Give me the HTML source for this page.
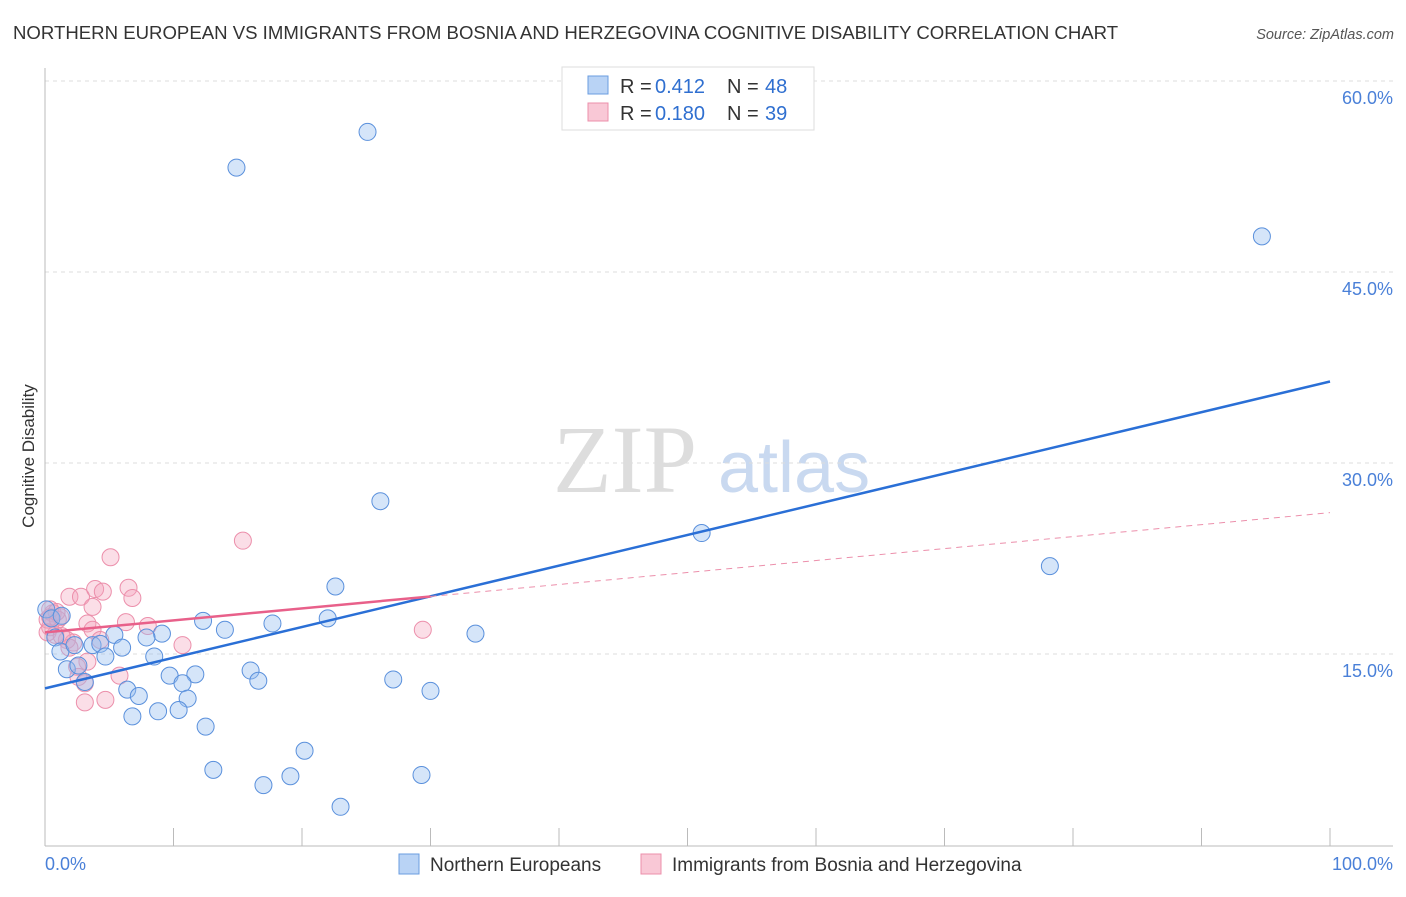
<!DOCTYPE html>
<html><head><meta charset="utf-8"><style>
body{margin:0;background:#fff;font-family:"Liberation Sans",sans-serif;}
svg text{font-family:"Liberation Sans",sans-serif;}
</style></head><body>
<svg id="c" width="1406" height="892">
<text x="13" y="39" font-size="18.6" fill="#333">NORTHERN EUROPEAN VS IMMIGRANTS FROM BOSNIA AND HERZEGOVINA COGNITIVE DISABILITY CORRELATION CHART</text>
<text x="1394" y="39" font-size="14.5" fill="#555" text-anchor="end" font-style="italic">Source: ZipAtlas.com</text>
<text x="34" y="456" font-size="17" fill="#333" text-anchor="middle" transform="rotate(-90 34 456)">Cognitive Disability</text>
<text x="553" y="492" font-size="96" fill="#ddd" style="font-family:'Liberation Serif',serif">ZIP</text>
<text x="718" y="492" font-size="72" fill="#c9d9f0">atlas</text>
<g id="grid"></g><g id="marks"></g>
<g>
<rect x="562" y="67" width="252" height="63" fill="#fff" stroke="#ddd"/>
<rect x="588" y="76" width="20" height="18" fill="#b9d3f5" stroke="#6a9de0"/>
<rect x="588" y="103" width="20" height="18" fill="#f9c8d6" stroke="#ec8fab"/>
<text x="620" y="93" font-size="20" fill="#333">R =</text>
<text x="655" y="93" font-size="20" fill="#2f6fd0">0.412</text>
<text x="727" y="93" font-size="20" fill="#333">N =</text>
<text x="765" y="93" font-size="20" fill="#2f6fd0">48</text>
<text x="620" y="120" font-size="20" fill="#333">R =</text>
<text x="655" y="120" font-size="20" fill="#2f6fd0">0.180</text>
<text x="727" y="120" font-size="20" fill="#333">N =</text>
<text x="765" y="120" font-size="20" fill="#2f6fd0">39</text>
</g>
<g>
<rect x="399" y="854" width="20" height="20" fill="#b9d3f5" stroke="#6a9de0"/>
<text x="430" y="871" font-size="19" fill="#333">Northern Europeans</text>
<rect x="641" y="854" width="20" height="20" fill="#f9c8d6" stroke="#ec8fab"/>
<text x="672" y="871" font-size="19" fill="#333">Immigrants from Bosnia and Herzegovina</text>
</g>
</svg>
<script>
const yTicks=[15,30,45,60];
const yTickLabels=["15.0%","30.0%","45.0%","60.0%"];
const blueX=[25.1,14.9,94.7,26.1,51.1,78.2,22.6,0.1,0.5,1.3,12.3,14.0,17.7,22.0,33.5,9.1,5.4,7.9,0.8,3.7,6.0,4.3,1.2,2.3,4.7,8.5,1.7,2.6,11.7,9.7,16.0,3.1,6.4,10.7,16.6,27.1,7.3,11.1,30.0,8.8,10.4,6.8,12.5,20.2,13.1,19.1,29.3,17.0,23.0];
const blueY=[56.0,53.2,47.8,27.0,24.5,21.9,20.3,18.5,17.8,18.0,17.6,16.9,17.4,17.8,16.6,16.6,16.5,16.3,16.3,15.7,15.5,15.8,15.2,15.7,14.8,14.8,13.8,14.1,13.4,13.3,13.7,12.8,12.2,12.7,12.9,13.0,11.7,11.5,12.1,10.5,10.6,10.1,9.3,7.4,5.9,5.4,5.5,4.7,3.0];
const pinkX=[15.4,5.1,1.9,2.8,3.9,4.5,6.5,6.8,3.7,0.6,1.2,6.3,8.0,3.3,3.7,0.4,0.8,2.2,1.7,10.7,3.3,5.8,2.5,3.1,3.1,4.7,29.4,0.2,1.0,0.4,1.9,2.6,0.4,0.9,0.2,1.3,4.3];
const pinkY=[23.9,22.6,19.5,19.5,20.1,19.9,20.2,19.4,18.7,18.2,17.9,17.5,17.2,17.4,16.9,17.1,16.5,15.9,16.1,15.7,14.4,13.3,14.0,12.7,11.2,11.4,16.9,17.7,17.7,17.9,15.5,13.2,18.5,18.3,16.7,16.4,16.1];
const blueLine=[12.3,36.4];
const pinkLine=[16.7,26.1];
const NS='http://www.w3.org/2000/svg';
const sx=v=>45+v*12.85, sy=v=>845-v*191/15;
function mk(t,a,p){const e=document.createElementNS(NS,t);for(const k in a)e.setAttribute(k,a[k]);p.appendChild(e);return e;}
const grid=document.getElementById('grid'),marks=document.getElementById('marks');
yTicks.forEach((t,i)=>{
 const l=mk('line',{x1:45,x2:1393,y1:sy(t),y2:sy(t),stroke:'#ddd','stroke-dasharray':'4 4'},grid);
 
 
 const tx=mk('text',{x:1393,y:sy(t)+23,'font-size':18,fill:'#4a80d8','text-anchor':'end'},grid);
 tx.textContent=yTickLabels[i];
 
 
});
mk('line',{x1:45,x2:45,y1:68,y2:846,stroke:'#bbb'},grid);
mk('line',{x1:45,x2:1393,y1:846,y2:846,stroke:'#bbb'},grid);
for(let i=0;i<=10;i++){mk('line',{x1:sx(i*10),x2:sx(i*10),y1:828,y2:846,stroke:'#bbb'},grid);}
const x0=mk('text',{x:45,y:870,'font-size':18,fill:'#4a80d8'},grid);x0.textContent='0.0%';


const x1=mk('text',{x:1393,y:870,'font-size':18,fill:'#4a80d8','text-anchor':'end'},grid);x1.textContent='100.0%';


pinkX.forEach((x,i)=>{const c=mk('circle',{cx:sx(x),cy:sy(pinkY[i]),r:8.5,fill:'rgba(244,160,185,0.35)',stroke:'#ec8fab','stroke-width':1},marks);
 
 });
blueX.forEach((x,i)=>{const c=mk('circle',{cx:sx(x),cy:sy(blueY[i]),r:8.5,fill:'rgba(150,190,240,0.4)',stroke:'#5a90dc','stroke-width':1},marks);
 
 });
const bl=mk('line',{x1:sx(0),y1:sy(blueLine[0]),x2:sx(100),y2:sy(blueLine[1]),stroke:'#2a6fd6','stroke-width':2.5},marks);


const pv=x=>pinkLine[0]+(pinkLine[1]-pinkLine[0])*x/100;
const pl=mk('line',{x1:sx(0),y1:sy(pv(0)),x2:sx(30),y2:sy(pv(30)),stroke:'#e8608a','stroke-width':2.5},marks);


const pd=mk('line',{x1:sx(30),y1:sy(pv(30)),x2:sx(100),y2:sy(pv(100)),stroke:'#ec8fab','stroke-width':1,'stroke-dasharray':'6 5'},marks);


</script>
</body></html>
